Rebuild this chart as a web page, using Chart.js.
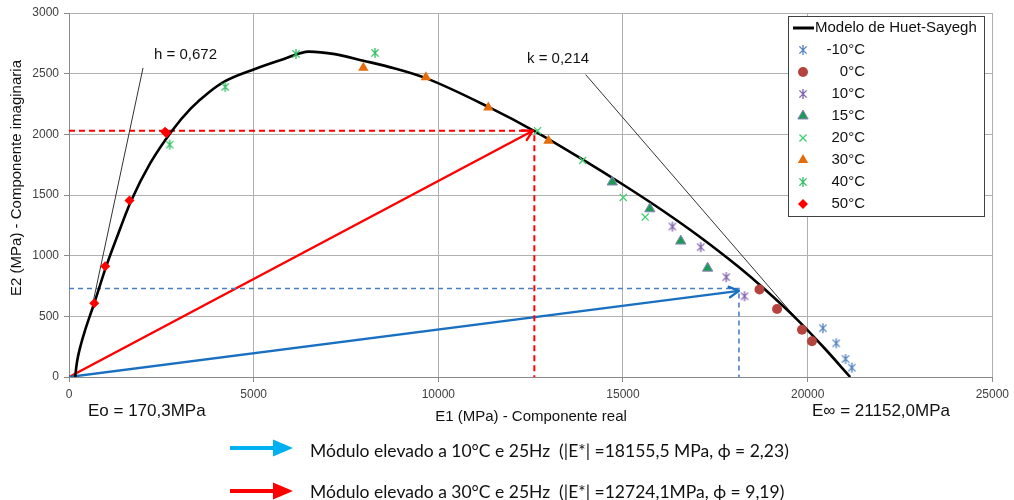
<!DOCTYPE html>
<html>
<head>
<meta charset="utf-8">
<script src="https://cdn.jsdelivr.net/npm/chart.js@4.4.1/dist/chart.umd.min.js"></script>
<style>
  html, body { margin: 0; padding: 0; background: #fff; }
  #wrap { width: 1014px; height: 500px; position: relative; }
</style>
</head>
<body>
<div id="wrap"><canvas id="c" width="1014" height="500"></canvas></div>
<script>
// ---- Measured points: E1 (real part) / E2 (imaginary part), MPa ----
const tempLabels = ['-10°C', '0°C', '10°C', '15°C', '20°C', '30°C', '40°C', '50°C'];

const e1_m10 = [20413, 20774, 21026, 21197];
const e2_m10 = [402, 278, 149, 77];
const e1_0   = [18696, 19172, 19847, 20117];
const e2_0   = [721, 561, 390, 295];
const e1_10  = [16338, 17104, 17796, 18291];
const e2_10  = [1240, 1070, 823, 666];
const e1_15  = [14710, 15727, 16564, 17292];
const e2_15  = [1607, 1386, 1120, 897];
const e1_20  = [12686, 13908, 15007, 15601];
const e2_20  = [2030, 1785, 1480, 1318];
const e1_30  = [7970, 9663, 11354, 12982];
const e2_30  = [2548, 2470, 2222, 1948];
const e1_40  = [2726, 4229, 6145, 8286];
const e2_40  = [1915, 2391, 2663, 2671];
const e1_50  = [683, 980, 1638, 2600, 2640];
const e2_50  = [608, 913, 1455, 2022, 2010];

// Huet-Sayegh model (Cole-Cole plane)
const modelE1 = [170, 185, 220, 290, 420, 683, 1000, 1300, 1680, 2200, 2790, 3300, 3800, 4240, 5000, 5800, 6500, 7200, 7970, 8800, 9663, 11354, 12650, 13880, 15050, 16130, 17030, 18110, 18830, 19730, 20450, 21152];
const modelE2 = [0, 50, 130, 230, 370, 608, 905, 1154, 1450, 1762, 2030, 2214, 2349, 2440, 2535, 2619, 2682, 2661, 2607, 2545, 2463, 2226, 2019, 1798, 1576, 1360, 1166, 912, 725, 469, 239, 0];

// Asymptote lines giving h and k
const hLineE1 = [648, 2005];
const hLineE2 = [611, 2548];
const kLineE1 = [13990, 19900];
const kLineE2 = [2492, 410];

// Complex modulus vectors (|E*|, phase) and their projections
const vec10E1 = [0, 18140];
const vec10E2 = [0, 710];
const guide10E1 = [0, 18140, 18140];
const guide10E2 = [730, 730, 0];
const vec30E1 = [0, 12560];
const vec30E2 = [0, 2030];
const guide30E1 = [0, 12600, 12600];
const guide30E2 = [2030, 2030, 0];

// Axis tick labels
const xTickLabels = ['0', '5000', '10000', '15000', '20000', '25000'];
const yTickLabels = ['0', '500', '1000', '1500', '2000', '2500', '3000'];

const pts = (xs, ys) => xs.map((x, i) => ({ x, y: ys[i] }));

// Six-armed star marker (cross plus vertical bar)
function starMarker(color, size) {
  const c = document.createElement('canvas');
  c.width = c.height = size;
  const g = c.getContext('2d');
  const m = size / 2, r = size / 2 - 1, d = r * 0.72;
  g.strokeStyle = color;
  g.lineWidth = 1.3;
  g.beginPath();
  g.moveTo(m - d, m - d); g.lineTo(m + d, m + d);
  g.moveTo(m + d, m - d); g.lineTo(m - d, m + d);
  g.moveTo(m, m - r); g.lineTo(m, m + r);
  g.stroke();
  return c;
}

const series = [
  { label: tempLabels[0], data: pts(e1_m10, e2_m10), pointStyle: starMarker('#4f81bd', 12), pointRadius: 5, backgroundColor: '#4f81bd', borderColor: '#4f81bd' },
  { label: tempLabels[1], data: pts(e1_0, e2_0), pointStyle: 'circle', pointRadius: 5, backgroundColor: '#b5443f', borderColor: '#b5443f', borderWidth: 0 },
  { label: tempLabels[2], data: pts(e1_10, e2_10), pointStyle: starMarker('#7f5fae', 12), pointRadius: 5, backgroundColor: '#7f5fae', borderColor: '#7f5fae' },
  { label: tempLabels[3], data: pts(e1_15, e2_15), pointStyle: 'triangle', pointRadius: 6, backgroundColor: '#1c9a58', borderColor: '#8f84b8', borderWidth: 1 },
  { label: tempLabels[4], data: pts(e1_20, e2_20), pointStyle: 'crossRot', pointRadius: 5, backgroundColor: '#3fcf70', borderColor: '#3fcf70', borderWidth: 1.3 },
  { label: tempLabels[5], data: pts(e1_30, e2_30), pointStyle: 'triangle', pointRadius: 6, backgroundColor: '#e46c0a', borderColor: '#e46c0a', borderWidth: 0 },
  { label: tempLabels[6], data: pts(e1_40, e2_40), pointStyle: starMarker('#2ebd5f', 12), pointRadius: 5, backgroundColor: '#2ebd5f', borderColor: '#2ebd5f' },
  { label: tempLabels[7], data: pts(e1_50, e2_50), pointStyle: 'rectRot', pointRadius: 5, backgroundColor: '#ff0000', borderColor: '#ff0000', borderWidth: 0 }
].map(s => Object.assign({ type: 'scatter', showLine: false, borderWidth: 1.3, pointHoverRadius: s.pointRadius }, s));

const lineDs = (label, xs, ys, color, width, dash, extra) => Object.assign({
  type: 'line', label, data: pts(xs, ys), borderColor: color, borderWidth: width,
  borderDash: dash || [], pointRadius: 0, fill: false, tension: 0
}, extra || {});

const lines = [
  lineDs('Modelo de Huet-Sayegh', modelE1, modelE2, '#000000', 2.6, null, { cubicInterpolationMode: 'monotone' }),
  lineDs('h', hLineE1, hLineE2, '#333333', 1),
  lineDs('k', kLineE1, kLineE2, '#333333', 1),
  lineDs('guide10', guide10E1, guide10E2, '#4a7fc1', 1.6, [5, 4]),
  lineDs('guide30', guide30E1, guide30E2, '#ff0000', 2, [6, 4]),
  lineDs('vec10', vec10E1, vec10E2, '#1a70c0', 2.4, null, { arrow: true }),
  lineDs('vec30', vec30E1, vec30E2, '#ff0000', 2.4, null, { arrow: true })
];

const FONT = '"Liberation Sans", Arial, sans-serif';

// Open arrowheads on the modulus vectors, plus all annotations and the legend
const overlay = {
  id: 'overlay',
  afterDatasetsDraw(chart) {
    const ctx = chart.ctx;
    chart.data.datasets.forEach((ds, i) => {
      if (!ds.arrow) return;
      const meta = chart.getDatasetMeta(i);
      const n = meta.data.length;
      const a = meta.data[n - 2], b = meta.data[n - 1];
      const ang = Math.atan2(b.y - a.y, b.x - a.x);
      const L = 11, sp = 0.5;
      ctx.save();
      ctx.strokeStyle = ds.borderColor;
      ctx.lineWidth = ds.borderWidth;
      ctx.lineCap = 'round';
      ctx.lineJoin = 'round';
      ctx.beginPath();
      ctx.moveTo(b.x - L * Math.cos(ang - sp), b.y - L * Math.sin(ang - sp));
      ctx.lineTo(b.x, b.y);
      ctx.lineTo(b.x - L * Math.cos(ang + sp), b.y - L * Math.sin(ang + sp));
      ctx.stroke();
      ctx.restore();
    });
  },
  afterDraw(chart) {
    const ctx = chart.ctx;
    ctx.save();
    ctx.fillStyle = '#111';
    ctx.textBaseline = 'middle';

    // axis titles
    ctx.font = '15px ' + FONT;
    ctx.textAlign = 'center';
    ctx.fillText('E1 (MPa) - Componente real', 531, 417);
    ctx.save();
    ctx.translate(17, 178);
    ctx.rotate(-Math.PI / 2);
    ctx.fillText('E2 (MPa) - Componente imaginaria', 0, 0);
    ctx.restore();

    // parameter annotations
    ctx.textAlign = 'left';
    ctx.font = '15px ' + FONT;
    ctx.fillText('h = 0,672', 154, 55);
    ctx.fillText('k = 0,214', 527, 59);
    ctx.font = '17px ' + FONT;
    ctx.fillText('Eo = 170,3MPa', 88, 411);
    ctx.fillText('E\u221e = 21152,0MPa', 812, 411);

    // bottom key with block arrows
    const blockArrow = (x0, x1, y, color) => {
      ctx.fillStyle = color;
      ctx.fillRect(x0, y - 2, x1 - x0 - 18, 4);
      ctx.beginPath();
      ctx.moveTo(x1 - 20, y - 8.5);
      ctx.lineTo(x1, y);
      ctx.lineTo(x1 - 20, y + 8.5);
      ctx.closePath();
      ctx.fill();
    };
    blockArrow(230, 293, 448, '#00b0f0');
    blockArrow(230, 293, 491, '#ff0000');
    ctx.fillStyle = '#111';
    ctx.font = '17.5px Lato, "Liberation Sans", sans-serif';
    ctx.fillText('Módulo elevado a 10°C e 25Hz  (|E*| =18155,5 MPa, \u03d5 = 2,23)', 310, 451);
    ctx.fillText('Módulo elevado a 30°C e 25Hz  (|E*| =12724,1MPa, \u03d5 = 9,19)', 310, 492);

    // legend box
    const bx = 788, by = 16, bw = 196, bh = 200;
    ctx.fillStyle = '#fff';
    ctx.fillRect(bx, by, bw, bh);
    ctx.strokeStyle = '#404040';
    ctx.lineWidth = 1;
    ctx.strokeRect(bx + 0.5, by + 0.5, bw, bh);

    ctx.strokeStyle = '#000';
    ctx.lineWidth = 3;
    ctx.beginPath();
    ctx.moveTo(793, 28); ctx.lineTo(814, 28);
    ctx.stroke();
    ctx.fillStyle = '#111';
    ctx.font = '15px ' + FONT;
    ctx.textAlign = 'left';
    ctx.fillText(lines[0].label, 815, 28);

    ctx.textAlign = 'right';
    series.forEach((s, i) => {
      const y = 50 + i * 22;
      ctx.save();
      ctx.fillStyle = s.backgroundColor;
      ctx.strokeStyle = s.borderColor;
      ctx.lineWidth = s.borderWidth;
      Chart.helpers.drawPoint(ctx, {
        pointStyle: s.pointStyle, radius: s.pointRadius, rotation: 0, borderWidth: s.borderWidth
      }, 803, y);
      ctx.restore();
      ctx.fillStyle = '#111';
      ctx.fillText(s.label, 865, y);
    });
    ctx.restore();
  }
};

Chart.defaults.font.family = FONT;

new Chart(document.getElementById('c'), {
  type: 'scatter',
  data: { datasets: [...series, ...lines] },
  options: {
    responsive: false,
    animation: false,
    events: [],
    layout: { padding: { left: 0, right: 19, top: 13, bottom: 0 } },
    plugins: { legend: { display: false }, tooltip: { enabled: false } },
    scales: {
      x: {
        type: 'linear', min: 0, max: 25000,
        ticks: { stepSize: 5000, color: '#404040', font: { size: 12 }, padding: 5, maxRotation: 0,
                 callback: (v, i) => xTickLabels[i] },
        grid: { color: '#b0b0b0', lineWidth: 1, tickLength: 5, tickColor: '#8a8a8a' },
        border: { color: '#8a8a8a' },
        afterFit(s) { s.height = 123; }
      },
      y: {
        type: 'linear', min: 0, max: 3000,
        ticks: { stepSize: 500, color: '#404040', font: { size: 12 }, padding: 5,
                 callback: (v, i) => yTickLabels[i] },
        grid: { color: '#b0b0b0', lineWidth: 1, tickLength: 5, tickColor: '#8a8a8a' },
        border: { color: '#8a8a8a' },
        afterFit(s) { s.width = 69; }
      }
    }
  },
  plugins: [overlay]
});
</script>
</body>
</html>
